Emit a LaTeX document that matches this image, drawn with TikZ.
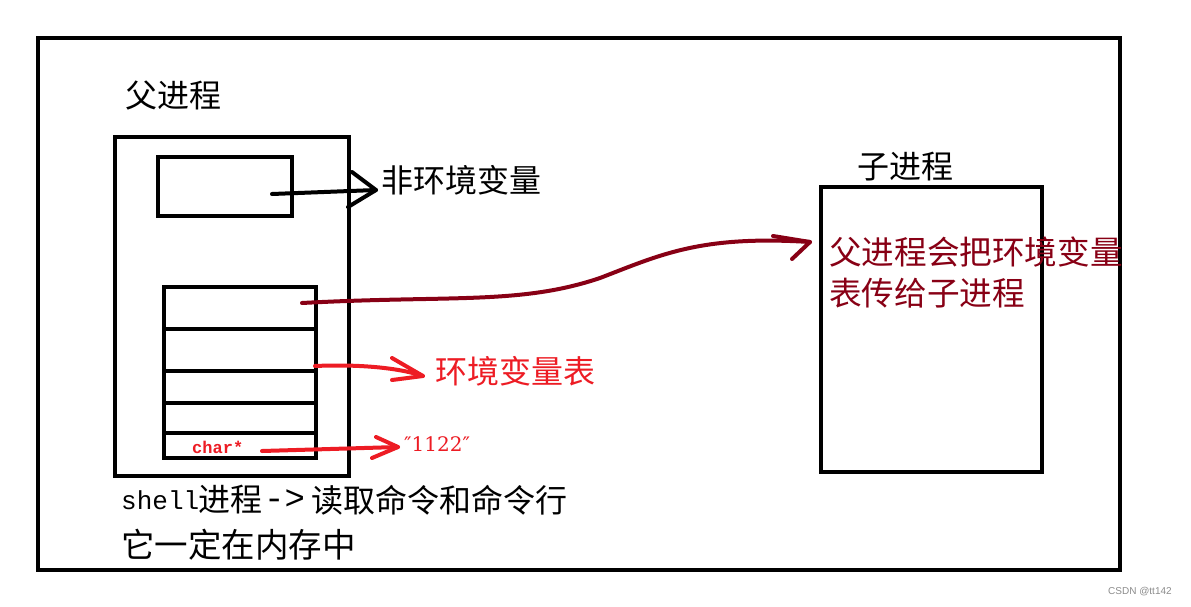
\documentclass[tikz,border=0pt]{standalone}
\usepackage{fontspec}
\newfontfamily\cjk{Noto Sans CJK SC}
\newfontfamily\mono{Liberation Mono}
\newfontfamily\dserif{DejaVu Serif}
\newfontfamily\lsans{Liberation Sans}
\definecolor{pred}{HTML}{ED1C24}
\definecolor{dred}{HTML}{880015}
\begin{document}
\begin{tikzpicture}[x=1pt,y=-1pt,
  box/.style={draw=black,line width=4.5pt,inner sep=0pt,rectangle},
  cell/.style={draw=black,line width=4.5pt,inner sep=0pt,rectangle,minimum width=152pt},
  lbl/.style={inner sep=0pt,anchor=west,font=\cjk\fontsize{32}{36}\selectfont},
  monolbl/.style={inner sep=0pt,anchor=west,font=\mono\fontsize{26}{30}\selectfont},
  hand/.style={line width=4pt,line cap=round,line join=round}]
\useasboundingbox (0,0) rectangle (1191,606);
\fill[white] (0,0) rectangle (1191,606);
% frames
\node[box,minimum width=1082pt,minimum height=532pt] (outer) at (579,304) {};
\node[box,minimum width=234pt,minimum height=339pt] (parent) at (232,306.5) {};
\node[box,minimum width=134pt,minimum height=59pt] (small) at (225,186.5) {};
\node[cell,minimum height=42pt] (r1) at (240,308) {};
\node[cell,minimum height=42pt] (r2) at (240,350) {};
\node[cell,minimum height=32pt] (r3) at (240,387) {};
\node[cell,minimum height=30pt] (r4) at (240,418) {};
\node[cell,minimum height=25pt] (r5) at (240,445.5) {};
\node[box,minimum width=221pt,minimum height=285pt] (child) at (931.5,329.5) {};
% texts
\node[lbl] (tparent) at (125,95) {父进程};
\node[lbl] (tnon) at (381,180) {非环境变量};
\node[lbl,text=pred] (tenv) at (435,371) {环境变量表};
\node[inner sep=0pt,anchor=west,text=pred,font=\mono\bfseries\fontsize{17}{20}\selectfont] (tchar) at (192,447) {char*};
\node[inner sep=0pt,anchor=west,text=pred,font=\dserif\fontsize{20}{22}\selectfont] (tstr) at (404,444) {″1122″};
\node[lbl] (tchild) at (857,167) {子进程};
\node[lbl,text=dred,font=\cjk\fontsize{32.6}{36}\selectfont] (tpass1) at (829,252) {父进程会把环境变量};
\node[lbl,text=dred,font=\cjk\fontsize{32.6}{36}\selectfont] (tpass2) at (829,293) {表传给子进程};
\node[monolbl] (tsh1) at (121,500) {shell};
\node[lbl] (tsh2) at (198,500) {进程};
\node[monolbl,font=\mono\fontsize{34}{36}\selectfont] (tsh3) at (264,500) {->};
\node[lbl] (tsh4) at (311,500) {读取命令和命令行};
\node[lbl,font=\cjk\fontsize{33.5}{36}\selectfont] (tmem) at (121,545) {它一定在内存中};
\node[inner sep=0pt,anchor=west,text=black!45,font=\lsans\fontsize{10}{12}\selectfont] (tcsdn) at (1108,592) {CSDN @tt142};
% black arrow
\coordinate (a1s) at (272,194);
\coordinate (a1e) at (376,190);
\draw[hand] (a1s) -- (a1e);
\draw[hand] (352,172) -- (a1e) -- (348,207);
% dark red curve
\coordinate (a2s) at (302,303);
\coordinate (a2e) at (810,242);
\draw[hand,dred] (a2s) .. controls (450,295) and (520,305) .. (600,278)
  .. controls (660,255) and (700,235) .. (a2e);
\draw[hand,dred] (773,236) -- (a2e) -- (792,259);
% red arrow
\coordinate (a3s) at (315,366);
\coordinate (a3e) at (423,376);
\draw[hand,pred] (a3s) .. controls (360,364) and (400,368) .. (a3e);
\draw[hand,pred] (392,358) -- (a3e) -- (392,380);
% char* arrow
\coordinate (a4s) at (262,451);
\coordinate (a4e) at (398,447);
\draw[hand,pred] (a4s) -- (a4e);
\draw[hand,pred] (376,437) -- (a4e) -- (372,458);
\end{tikzpicture}
\end{document}
